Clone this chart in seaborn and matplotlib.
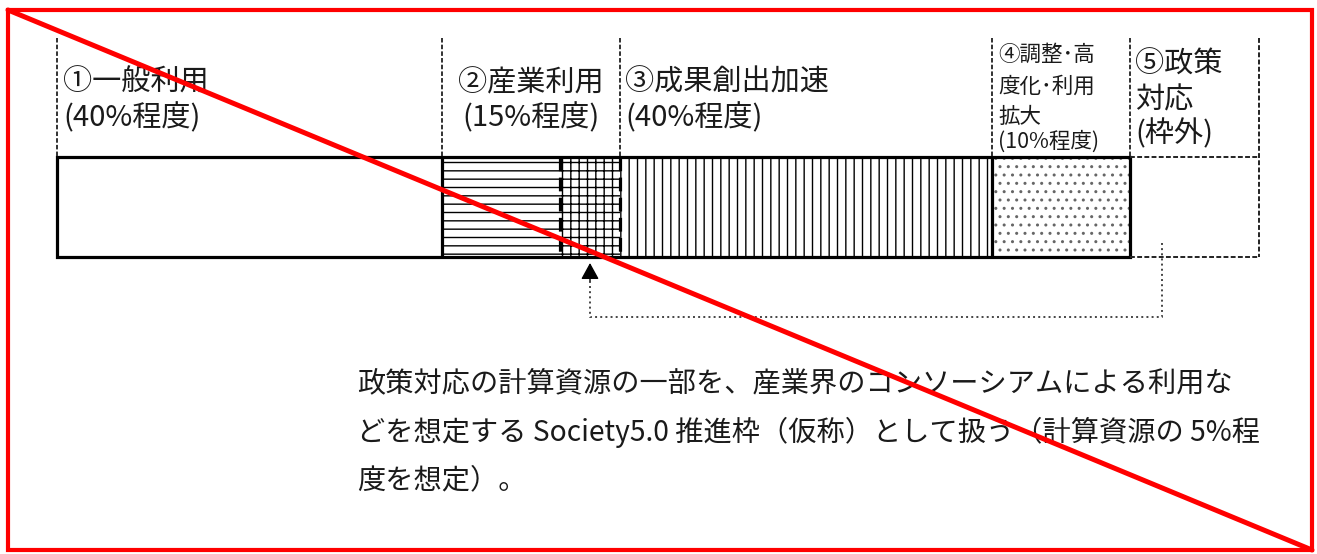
import numpy as np
import pandas as pd
import seaborn as sns
import matplotlib.pyplot as plt
from matplotlib.patches import Rectangle
from matplotlib.lines import Line2D

# bar segments as drawn (lengths, 1 unit = 10 px)
segment_names = ['一般利用', '産業利用', 'Society5.0推進枠', '成果創出加速', '調整・高度化・利用拡大']
segment_widths = [38.5, 11.8, 6.0, 37.2, 13.8]
segment_hatches = [None, '--', '++', '||', '..']
hatch_colors = ['black', 'black', 'black', 'black', '#666666']
policy_width = 12.9   # ⑤ 政策対応 (枠外), dashed frame

label1 = ['①一般利用', '(40%程度)']
label2 = ['②産業利用', '(15%程度)']
label3 = ['③成果創出加速', '(40%程度)']
label4 = ['④調整･高', '度化･利用', '拡大', '(10%程度)']
label5 = ['⑤政策', '対応', '(枠外)']

note_lines = [
    '政策対応の計算資源の一部を、産業界のコンソーシアムによる利用な',
    'どを想定する Society5.0 推進枠（仮称）として扱う（計算資源の 5%程',
    '度を想定）。',
]

sns.set_style('white')
plt.rcParams['font.family'] = ['Noto Sans CJK JP', 'DejaVu Sans']
plt.rcParams['hatch.linewidth'] = 1.0

df = pd.DataFrame({'segment': segment_names, 'width': segment_widths})
df['end'] = df['width'].cumsum()
df['row'] = 'bar'
ends = df['end'].to_numpy()
total = ends[-1]
policy_end = total + policy_width

fig = plt.figure(figsize=(13.17, 5.54), dpi=100)
ax = fig.add_axes([0, 0, 1, 1])

# stacked bar by overdrawing cumulative bars, longest first
for i in range(len(df) - 1, -1, -1):
    sns.barplot(data=df.iloc[[i]], x='end', y='row', orient='h', color='white',
                width=1.0, errorbar=None, ax=ax)
    bar = ax.patches[-1]
    bar.set_facecolor('white')
    bar.set_edgecolor(hatch_colors[i])
    bar.set_linewidth(0)
    bar.set_hatch(segment_hatches[i])

ax.set_xlim(-5.7, 126.0)
ax.set_ylim(3.47, -2.07)
ax.axis('off')

# outline and inner boundaries
ax.add_patch(Rectangle((0, -0.5), total, 1, fill=False, ec='black', lw=2.3, zorder=5))
ax.vlines([ends[0], ends[3]], -0.5, 0.5, colors='black', lw=2.3, zorder=5)
ax.vlines([ends[1], ends[2]], -0.5, 0.5, colors='black', lw=2.3,
          linestyles=[(0, (4.3, 2))], zorder=5)

# policy frame (outside the quota)
frame_kw = dict(color='#222222', lw=1.4, linestyle=(0, (2.5, 1.2)), zorder=5)
ax.plot([total, policy_end], [-0.5, -0.5], **frame_kw)
ax.plot([total, policy_end], [0.5, 0.5], **frame_kw)
sep_top = -1.69
ax.plot([policy_end, policy_end], [sep_top, 0.5], **frame_kw)

# thin separators above the bar
for xs in [0, ends[0], ends[2], ends[3], ends[4]]:
    ax.plot([xs, xs], [sep_top, -0.5], color='#222222', lw=1.3,
            linestyle=(0, (2.5, 1.2)), zorder=5)

# dotted arrow from policy frame to the Society5.0 slot
x_from = total + 3.2
x_to = (ends[1] + ends[2]) / 2
ax.plot([x_from, x_from, x_to, x_to], [0.36, 1.10, 1.10, 0.74],
        color='#444444', lw=1.4, linestyle=':', zorder=4)
ax.annotate('', xy=(x_to, 0.56), xytext=(x_to, 0.75),
            arrowprops=dict(arrowstyle='-|>,head_length=1.0,head_width=0.55',
                            color='black', lw=1, shrinkA=0, shrinkB=0,
                            mutation_scale=10))

# labels above the bar
def put_lines(lines, x, ys, size, ha='left'):
    for txt, yy in zip(lines, ys):
        ax.text(x, yy, txt, fontsize=size, ha=ha, va='center', color='#1a1a1a')

put_lines(label1, 0.6, [-1.24, -0.89], 21)
put_lines(label2, (ends[0] + ends[2]) / 2, [-1.24, -0.89], 21, ha='center')
put_lines(label3, ends[2] + 0.5, [-1.24, -0.89], 21)
put_lines(label4, ends[3] + 0.6, [-1.52, -1.20, -0.90, -0.65], 15.5)
put_lines(label5, ends[4] + 0.5, [-1.42, -1.07, -0.73], 21)

# note below
put_lines(note_lines, 30.0, [1.76, 2.25, 2.73], 20.3)

# red frame and diagonal strike
fig.add_artist(Rectangle((8 / 1317, 4 / 554), 1304 / 1317, 540 / 554, fill=False,
                         ec='#ff0000', lw=3, transform=fig.transFigure))
fig.add_artist(Line2D([8 / 1317, 1312 / 1317], [544 / 554, 4 / 554], color='#ff0000',
                      lw=3.6, transform=fig.transFigure))

fig.savefig('out.png', dpi=100, facecolor='white')
